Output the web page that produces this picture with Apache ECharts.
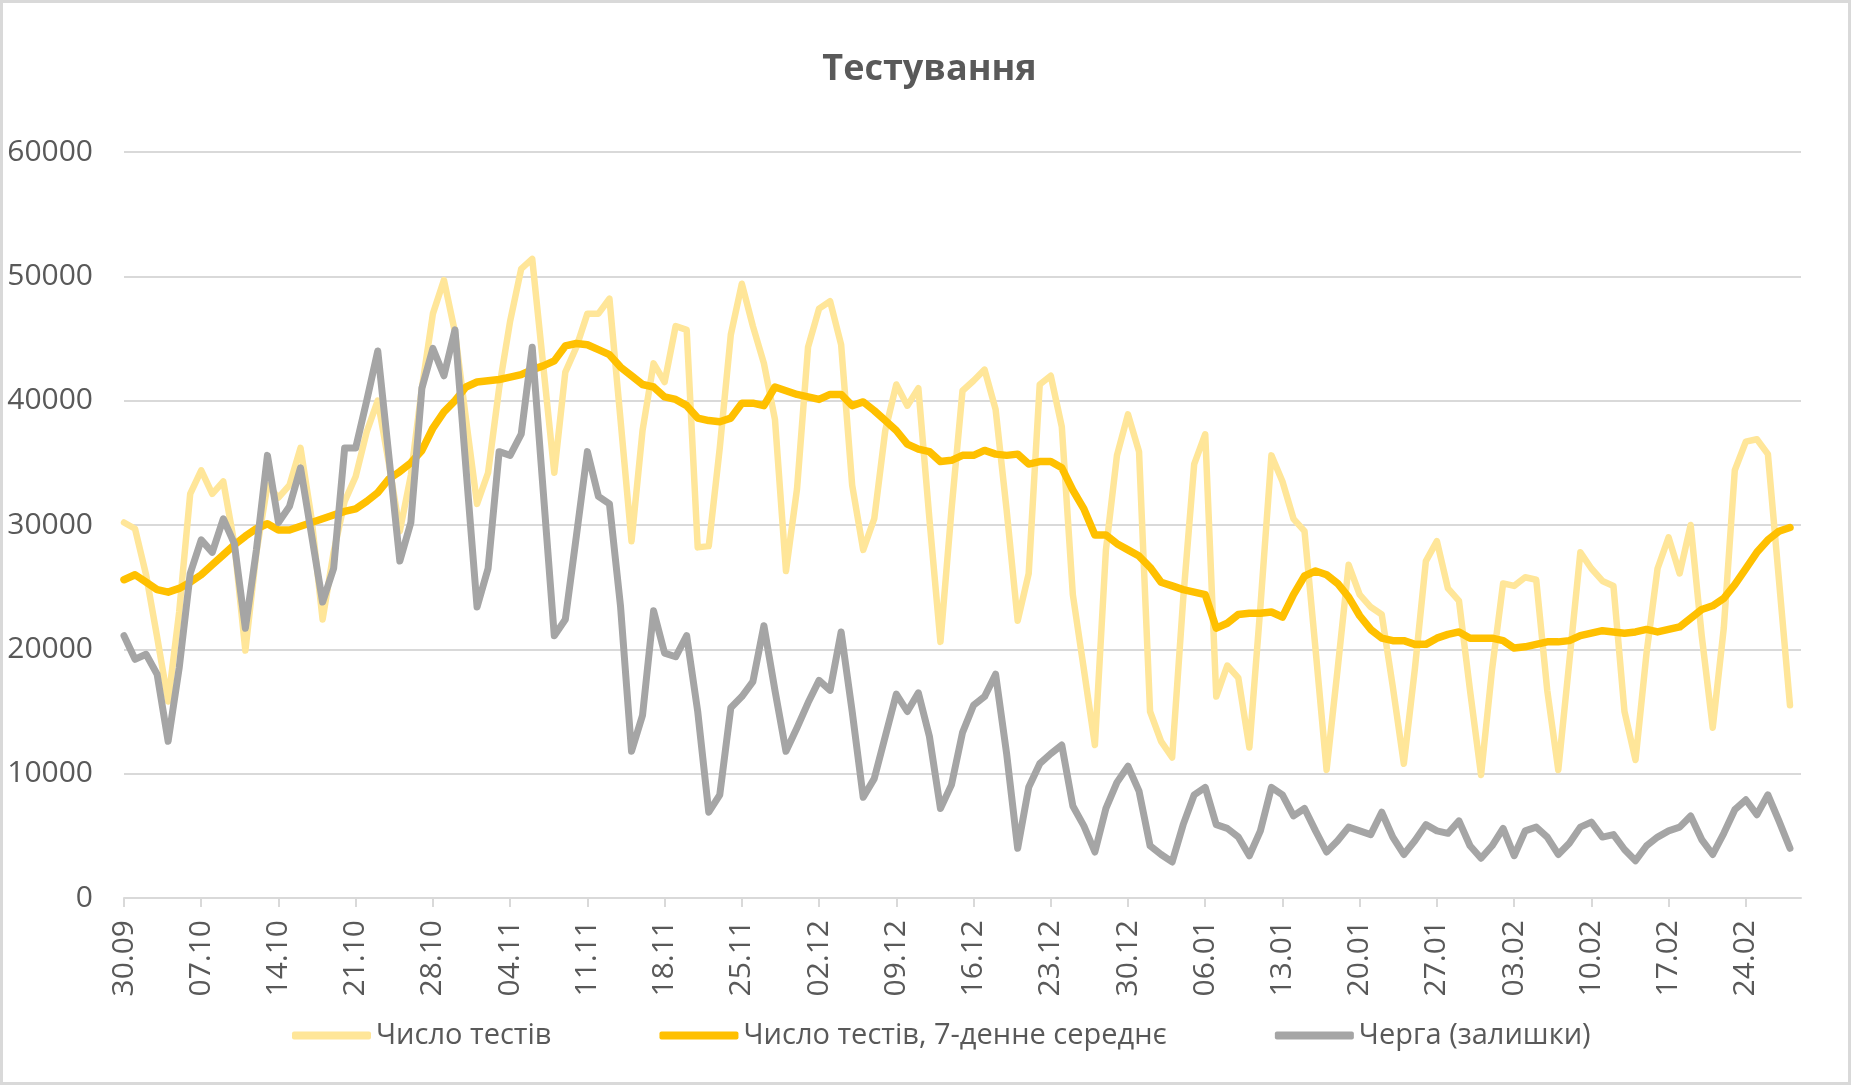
<!DOCTYPE html>
<html>
<head>
<meta charset="utf-8">
<title>Тестування</title>
<script src="https://cdn.jsdelivr.net/npm/echarts@6/dist/echarts.min.js"></script>
<style>
  html, body { margin: 0; padding: 0; background: #fff; }
  #chart { width: 1859px; height: 1089px; }
</style>
</head>
<body>
<div id="chart"></div>
<script>
// days from 30.09.2020, axis runs one day past the last value
var firstDay = Date.UTC(2020, 8, 30);
var dayCount = 153;
var dates = [];
for (var i = 0; i < dayCount; i++) {
  var d = new Date(firstDay + i * 86400000);
  var dd = ('0' + d.getUTCDate()).slice(-2);
  var mm = ('0' + (d.getUTCMonth() + 1)).slice(-2);
  dates.push(dd + '.' + mm);
}

var seriesNames = ['Число тестів', 'Число тестів, 7-денне середнє', 'Черга (залишки)'];

var tests = [
  30200, 29700, 26000, 21000, 15800, 23000, 32500, 34400, 32500, 33500,
  28500, 19900, 27800, 33200, 32200, 33200, 36200, 30500, 22400, 27800,
  31900, 33900, 37500, 40000, 35000, 29500, 34000, 41000, 47000, 49700,
  45500, 38500, 31700, 34200, 41000, 46400, 50600, 51400, 42800, 34200,
  42300, 44300, 47000, 47000, 48200, 38500, 28700, 37600, 43000, 41500,
  46000, 45700, 28200, 28300, 36200, 45300, 49400, 46000, 43000, 38500,
  26300, 32900, 44300, 47400, 48000, 44500, 33200, 28000, 30500, 37600,
  41300, 39600, 41000, 30500, 20600, 31200, 40800, 41600, 42500, 39300,
  31200, 22300, 26100, 41300, 42000, 37900, 24400, 18400, 12300, 28000,
  35600, 38900, 35900, 15000, 12600, 11300, 24000, 34900, 37300, 16200,
  18700, 17700, 12100, 23400, 35600, 33500, 30500, 29500, 20000, 10300,
  18400, 26800, 24400, 23400, 22800, 17000, 10800, 18400, 27100, 28700,
  24900, 23900, 16700, 9900, 18400, 25300, 25100, 25800, 25600, 16700,
  10300, 19000, 27800, 26500, 25500, 25100, 15000, 11100, 19700, 26500,
  29000, 26100, 30000, 21100, 13700, 21700, 34400, 36700, 36900, 35700,
  25600, 15500
];

var testsAvg7 = [
  25600, 26000, 25400, 24800, 24600, 24900, 25400, 26000, 26800, 27600,
  28400, 29100, 29700, 30100, 29600, 29600, 29900, 30200, 30500, 30800,
  31100, 31300, 31900, 32600, 33700, 34300, 35000, 36000, 37800, 39100,
  40000, 41100, 41500, 41600, 41700, 41900, 42100, 42500, 42800, 43200,
  44400, 44600, 44500, 44100, 43700, 42700, 42000, 41300, 41100, 40300,
  40100, 39600, 38600, 38400, 38300, 38600, 39800, 39800, 39600, 41100,
  40800, 40500, 40300, 40100, 40500, 40500, 39600, 39900, 39200, 38400,
  37600, 36500, 36100, 35900, 35100, 35200, 35600, 35600, 36000, 35700,
  35600, 35700, 34900, 35100, 35100, 34600, 32800, 31300, 29200, 29200,
  28500, 28000, 27500, 26600, 25400, 25100, 24800, 24600, 24400, 21700,
  22100, 22800, 22900, 22900, 23000, 22600, 24400, 25900, 26300, 26000,
  25300, 24200, 22700, 21600, 20900, 20700, 20700, 20400, 20400, 20900,
  21200, 21400, 20900, 20900, 20900, 20700, 20100, 20200, 20400, 20600,
  20600, 20700, 21100, 21300, 21500, 21400, 21300, 21400, 21600, 21400,
  21600, 21800, 22500, 23200, 23500, 24100, 25200, 26500, 27800, 28800,
  29500, 29800
];

var queue = [
  21100, 19200, 19600, 18000, 12600, 18500, 26100, 28800, 27800, 30500,
  28500, 21700, 28000, 35600, 30200, 31500, 34600, 29200, 23800, 26500,
  36200, 36200, 40000, 44000, 35600, 27100, 30200, 41000, 44200, 42000,
  45700, 34500, 23400, 26500, 35900, 35600, 37300, 44300, 32700, 21100,
  22400, 29100, 35900, 32300, 31700, 23500, 11800, 14700, 23100, 19700,
  19400, 21100, 15000, 6900, 8300, 15300, 16200, 17400, 21900, 16700,
  11800, 13700, 15700, 17500, 16700, 21400, 15000, 8100, 9600, 13000,
  16400, 15000, 16500, 13000, 7200, 9100, 13300, 15500, 16200, 18000,
  11600, 4000, 8900, 10800, 11600, 12300, 7400, 5800, 3700, 7200,
  9300, 10600, 8600, 4200, 3500, 2900, 5900, 8300, 8900, 5900,
  5600, 4900, 3400, 5400, 8900, 8300, 6600, 7200, 5400, 3700,
  4600, 5700, 5400, 5100, 6900, 4900, 3500, 4600, 5900, 5400,
  5200, 6200, 4200, 3200, 4200, 5600, 3400, 5400, 5700, 4900,
  3500, 4400, 5700, 6100, 4900, 5100, 3900, 3000, 4200, 4900,
  5400, 5700, 6600, 4700, 3500, 5200, 7100, 7900, 6700, 8300,
  6200, 4000
];

var font = 'Open Sans';
var textGray = '#595959';
var gridGray = '#d9d9d9';
var colors = ['#FFE699', '#FFC000', '#A5A5A5'];
var widths = [6.5, 7.5, 7];

function lineSeries(idx, data) {
  return {
    name: seriesNames[idx],
    type: 'line',
    data: data,
    symbol: 'none',
    smooth: false,
    itemStyle: {color: colors[idx]},
    lineStyle: {color: colors[idx], width: widths[idx], cap: 'round', join: 'round'}
  };
}

var chart = echarts.init(document.getElementById('chart'));
chart.setOption({
  animation: false,
  backgroundColor: '#fff',
  title: {
    text: 'Тестування',
    left: 'center',
    top: 47,
    textStyle: {fontFamily: font, fontSize: 36, fontWeight: 'bold', color: textGray}
  },
  legend: {
    left: 287,
    top: 1016,
    itemWidth: 79,
    itemHeight: 8,
    itemGap: 108,
    icon: 'roundRect',
    data: seriesNames,
    textStyle: {fontFamily: font, fontSize: 29, color: textGray}
  },
  grid: {left: 124, right: 58, top: 152, bottom: 191},
  xAxis: {
    type: 'category',
    data: dates,
    boundaryGap: false,
    axisLine: {lineStyle: {color: gridGray, width: 2}},
    axisTick: {interval: 6, length: 9, lineStyle: {color: gridGray, width: 2}},
    axisLabel: {
      interval: 6, rotate: 90, margin: 22,
      fontFamily: font, fontSize: 30, color: textGray
    },
    splitLine: {show: false}
  },
  yAxis: {
    type: 'value',
    min: 0,
    max: 60000,
    interval: 10000,
    axisLine: {show: false},
    axisTick: {show: false},
    axisLabel: {
      margin: 31, fontFamily: font, fontSize: 30, color: textGray,
      formatter: function (v) { return String(v); }
    },
    splitLine: {lineStyle: {color: gridGray, width: 2}}
  },
  graphic: [{
    type: 'rect',
    silent: true,
    shape: {x: 1.5, y: 1.5, width: 1848, height: 1082},
    style: {fill: 'none', stroke: gridGray, lineWidth: 3}
  }],
  series: [
    lineSeries(0, tests),
    lineSeries(1, testsAvg7),
    lineSeries(2, queue)
  ]
});
</script>
</body>
</html>
